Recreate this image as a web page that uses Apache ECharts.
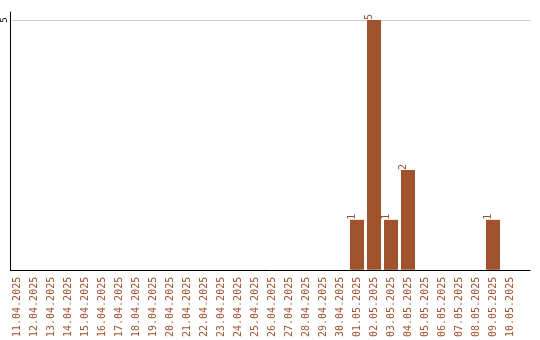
<!DOCTYPE html>
<html><head><meta charset="utf-8">
<script src="https://cdn.jsdelivr.net/npm/echarts@6/dist/echarts.min.js"></script>
<style>html,body{margin:0;padding:0;background:#fff}#c{width:540px;height:340px}</style>
</head><body><div id="c"></div>
<script>
var categories = ["11.04.2025","12.04.2025","13.04.2025","14.04.2025","15.04.2025","16.04.2025","17.04.2025","18.04.2025","19.04.2025","20.04.2025","21.04.2025","22.04.2025","23.04.2025","24.04.2025","25.04.2025","26.04.2025","27.04.2025","28.04.2025","29.04.2025","30.04.2025","01.05.2025","02.05.2025","03.05.2025","04.05.2025","05.05.2025","06.05.2025","07.05.2025","08.05.2025","09.05.2025","10.05.2025"];
var values = [0,0,0,0,0,0,0,0,0,0,0,0,0,0,0,0,0,0,0,0,1,5,1,2,0,0,0,0,1,0];
var yTicks = [5];
var font = "DejaVu Sans Mono";
var brown = "#a0522d";
var chart = echarts.init(document.getElementById('c'));
chart.setOption({
  animation: false,
  grid: [
    {left: 10.5, right: 10, top: 12, bottom: 70},
    {left: 10.5, right: 10, top: 20, bottom: 70},
    {left: 8.5, width: 510, top: 20, bottom: 70}
  ],
  xAxis: [
    {gridIndex: 0, type: 'category', data: [''], z: 10, axisLine: {lineStyle: {color: '#000', width: 1}}, axisTick: {show: false}, axisLabel: {show: false}},
    {gridIndex: 1, type: 'category', data: [''], axisLine: {show: false}, axisTick: {show: false}, axisLabel: {show: false}},
    {gridIndex: 2, type: 'category', data: categories, axisLine: {show: false}, axisTick: {show: false},
      axisLabel: {interval: 0, rotate: 90, margin: 7, color: brown, fontFamily: font, fontSize: 10}}
  ],
  yAxis: [
    {gridIndex: 0, type: 'value', min: 0, max: 1, z: 10, axisLine: {show: true, lineStyle: {color: '#000', width: 1}}, axisTick: {show: false}, axisLabel: {show: false}, splitLine: {show: false}},
    {gridIndex: 1, type: 'value', min: 0, max: 5, interval: 5, axisLine: {show: false}, axisTick: {show: false},
      splitLine: {show: true, lineStyle: {color: '#cccccc', width: 1}},
      axisLabel: {rotate: 90, margin: 3, color: '#000', fontFamily: font, fontSize: 9,
        formatter: function(v){ return yTicks.indexOf(v) >= 0 ? String(v) : ''; }}},
    {gridIndex: 2, type: 'value', min: 0, max: 5, show: false}
  ],
  series: [{
    type: 'bar', xAxisIndex: 2, yAxisIndex: 2, data: values, barWidth: 14,
    itemStyle: {color: brown},
    label: {show: true, position: 'top', rotate: 90, distance: 3, color: brown, fontFamily: font, fontSize: 10,
      formatter: function(p){ return p.value ? String(p.value) : ''; }}
  }]
});
</script></body></html>
